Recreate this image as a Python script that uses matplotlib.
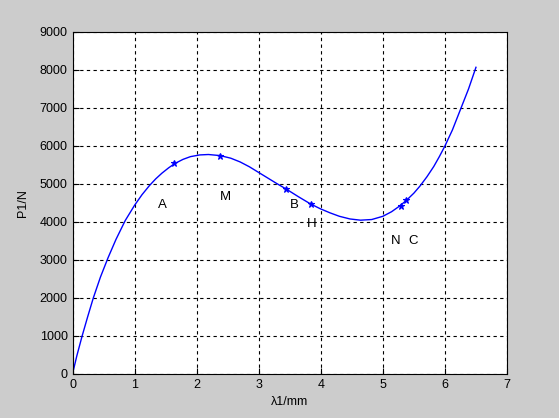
import matplotlib
matplotlib.use("Agg")
import matplotlib.pyplot as plt

# curve
lam = [0.0, 0.07, 0.155, 0.245, 0.335, 0.45, 0.573, 0.70, 0.85, 1.0, 1.12,
       1.24, 1.34, 1.44, 1.55, 1.65, 1.78, 1.9, 2.05, 2.19, 2.38, 2.55,
       2.70, 2.85, 3.01, 3.15, 3.29, 3.45, 3.64, 3.83, 3.99, 4.15, 4.30,
       4.47, 4.64, 4.82, 5.0, 5.14, 5.27, 5.38, 5.50, 5.60, 5.71, 5.82,
       5.91, 6.0, 6.12, 6.25, 6.38, 6.5]
P = [0, 480, 1000, 1510, 2000, 2550, 3060, 3540, 4040, 4440, 4719,
     4959, 5134, 5284, 5427, 5540, 5648, 5720, 5765, 5776, 5747, 5679,
     5581, 5453, 5293, 5153, 5013, 4860, 4665, 4480, 4350, 4240, 4150,
     4080, 4048, 4065, 4150, 4270, 4420, 4570, 4760, 4950, 5190, 5460,
     5720, 6000, 6420, 6960, 7500, 8071]

# marked points
mark_lam = [1.64, 2.38, 3.44, 3.84, 5.29, 5.38]
mark_P = [5561, 5737, 4860, 4474, 4429, 4571]

# text labels
lab_text = ["A", "M", "B", "H", "N", "C"]
lab_lam = [1.45, 2.47, 3.57, 3.85, 5.2, 5.48]
lab_P = [4450, 4650, 4450, 3950, 3500, 3500]

xticks = [0, 1, 2, 3, 4, 5, 6, 7]
yticks = [0, 1000, 2000, 3000, 4000, 5000, 6000, 7000, 8000, 9000]

plt.rcParams['font.family'] = ['Liberation Sans', 'DejaVu Sans']
fig = plt.figure(figsize=(5.59, 4.18), dpi=100, facecolor='#cccccc')
ax = fig.add_axes([72.5/559, 44/418, (507-72.5)/559, (374-32)/418])
ax.set_facecolor('white')

ax.plot(lam, P, color='#0000ff', lw=1.0)
ax.plot(mark_lam, mark_P, ls='none', marker='*', color='#0000ff', ms=5, mew=0.8)
for t, x, y in zip(lab_text, lab_lam, lab_P):
    ax.text(x, y, t, ha='center', va='center', fontsize=9.5, color='black')

ax.set_xlim(0, 7)
ax.set_ylim(0, 9000)
ax.set_xticks(xticks)
ax.set_yticks(yticks)
ax.grid(True, color='black', linestyle=(0, (3, 3)), linewidth=0.8)
ax.tick_params(direction='in', length=4, labelsize=9, colors='black', width=0.8)
for s in ax.spines.values():
    s.set_linewidth(0.8)
    s.set_color('black')
ax.set_xlabel('λ1/mm', fontsize=9, labelpad=4)
ax.set_ylabel('P1/N', fontsize=9, labelpad=8)

fig.savefig('out.png', dpi=100, facecolor=fig.get_facecolor())
